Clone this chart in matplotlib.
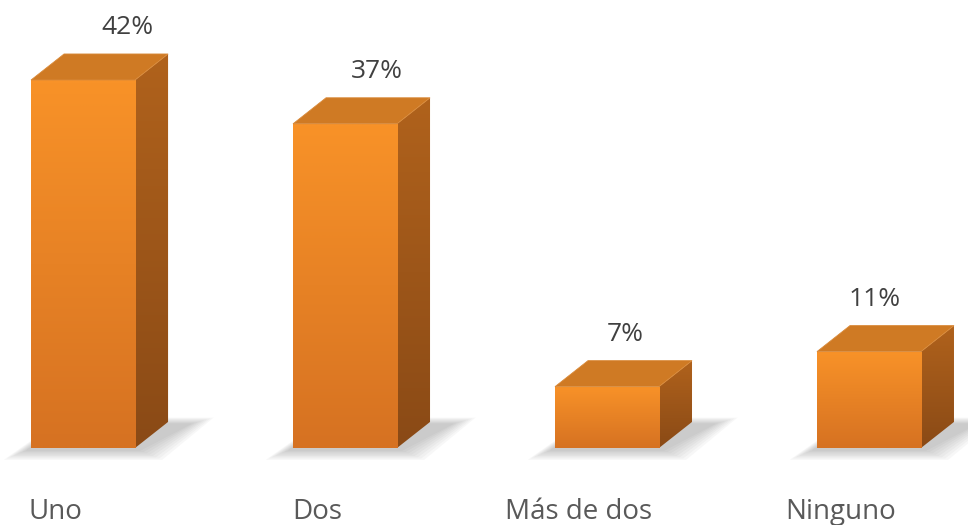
import numpy as np
import matplotlib.pyplot as plt
from matplotlib.patches import Polygon

# Data
categories = ['Uno', 'Dos', 'Más de dos', 'Ninguno']
values = [42, 37, 7, 11]
labels = ['42%', '37%', '7%', '11%']

plt.rcParams['font.family'] = ['Open Sans', 'DejaVu Sans']

fig = plt.figure(figsize=(9.68, 5.25), dpi=100)
ax = fig.add_axes([0, 0, 1, 1])
ax.set_xlim(-0.317, 3.378)
ax.set_ylim(-8.79, 51.13)
ax.axis('off')

width = 0.397
dx, dy = 0.126, 2.97   # depth offset of the 3D box
x = np.arange(len(values))


def grad(c1, c2, n=64):
    c1 = np.array(c1) / 255.0
    c2 = np.array(c2) / 255.0
    t = np.linspace(0, 1, n)[:, None]
    return (c1 * (1 - t) + c2 * t)[:, None, :]


for i, v in enumerate(values):
    x0, x1 = x[i] - width / 2, x[i] + width / 2

    # soft shadow on the floor
    for k in range(8):
        s = 0.012 * k
        shadow = Polygon([(x0 - 0.02 - s, -0.3 - 0.15 * k), (x1 + 0.02 + s, -0.3 - 0.15 * k),
                          (x1 + dx + 0.09 + s, dy - 0.2 + 0.1 * k), (x0 + dx, dy - 0.2 + 0.1 * k)],
                         closed=True, facecolor='#6e6e6e', edgecolor='none', alpha=0.05, zorder=1)
        ax.add_patch(shadow)

    # front face
    bars = ax.bar(x[i], v, width=width, color='none', edgecolor='none', zorder=3)
    front = bars[0]
    im = ax.imshow(grad((248, 146, 40), (214, 114, 34)), extent=(x0, x1, 0, v),
                   aspect='auto', zorder=3, interpolation='bilinear')
    im.set_clip_path(front)

    # side face
    side = Polygon([(x1, 0), (x1 + dx, dy), (x1 + dx, v + dy), (x1, v)],
                   closed=True, facecolor='none', edgecolor='none', zorder=2)
    ax.add_patch(side)
    im2 = ax.imshow(np.concatenate([grad((176, 98, 28), (138, 74, 22))] * 2, axis=1),
                    extent=(x1, x1 + dx, 0, v + dy), aspect='auto', zorder=2,
                    interpolation='bilinear')
    im2.set_clip_path(side)

    # top face
    top = Polygon([(x0, v), (x1, v), (x1 + dx, v + dy), (x0 + dx, v + dy)],
                  closed=True, facecolor='#cf7a24', edgecolor='#d98a3a', linewidth=0.6, zorder=4)
    ax.add_patch(top)

    # value label (perspective pulls labels left toward the right side)
    ax.text(x[i] + 0.17 - 0.05 * i, v + dy + 3.0, labels[i], ha='center', va='center',
            fontsize=19, color='#404040', zorder=5)

    # category label
    ax.text(x[i] - 0.107, -7.3, categories[i], ha='center', va='center',
            fontsize=20, color='#595959', zorder=5)

fig.savefig('out.png', dpi=100)
